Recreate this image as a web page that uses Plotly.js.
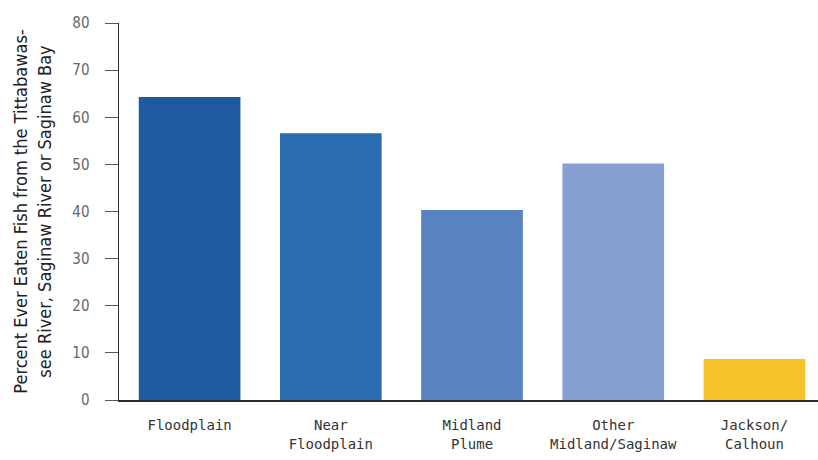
<!DOCTYPE html>
<html>
<head>
<meta charset="utf-8">
<script src="https://cdn.plot.ly/plotly-3.0.1.min.js"></script>
<style>
  html, body { margin: 0; padding: 0; background: #ffffff; }
  #chart { width: 818px; height: 460px; }
</style>
</head>
<body>
<div id="chart"></div>
<script>
// Share of residents who ever ate fish from the Tittabawassee River, Saginaw River or Saginaw Bay
const categories = ["Floodplain", "Near<br>Floodplain", "Midland<br>Plume", "Other<br>Midland/Saginaw", "Jackson/<br>Calhoun"];
const percentEaten = [64.3, 56.6, 40.3, 50.2, 8.7];
const barColors = ["#1f5aa0", "#2a6cb0", "#5882c0", "#86a0d2", "#f5c32a"];
const yTicks = [0, 10, 20, 30, 40, 50, 60, 70, 80];

const trace = {
  type: "bar",
  x: categories,
  y: percentEaten,
  marker: { color: barColors, line: { width: 0 } },
  hoverinfo: "x+y"
};

const layout = {
  width: 818,
  height: 460,
  margin: { l: 119, r: 0, t: 23, b: 60 },
  paper_bgcolor: "#ffffff",
  plot_bgcolor: "#ffffff",
  showlegend: false,
  bargap: 0.28,
  font: { family: "Liberation Sans Narrow, DejaVu Sans Condensed, sans-serif", color: "#333333" },
  xaxis: {
    type: "category",
    range: [-0.5, 4.45],
    showline: true,
    linecolor: "#2b2b2b",
    linewidth: 1.5,
    ticks: "",
    showgrid: false,
    zeroline: false,
    ticklabelstandoff: 12,
    tickfont: { size: 14, color: "#333333", family: "DejaVu Sans Mono, monospace" }
  },
  yaxis: {
    range: [0, 80],
    tickvals: yTicks,
    ticktext: yTicks.map(String),
    showline: true,
    linecolor: "#2b2b2b",
    linewidth: 1.5,
    ticks: "outside",
    ticklen: 13,
    tickcolor: "#555555",
    tickwidth: 1,
    showgrid: false,
    zeroline: false,
    ticklabelstandoff: 12,
    tickfont: { size: 15, color: "#666666", family: "Liberation Sans Narrow, DejaVu Sans Condensed, sans-serif" },
    title: {
      text: "Percent Ever Eaten Fish from the Tittabawas-<br>see River, Saginaw River or Saginaw Bay",
      font: { size: 18, color: "#222222", family: "Liberation Sans Narrow, DejaVu Sans Condensed, sans-serif" },
      standoff: 16
    }
  }
};

Plotly.newPlot("chart", [trace], layout, { displayModeBar: false, staticPlot: true });
</script>
</body>
</html>
